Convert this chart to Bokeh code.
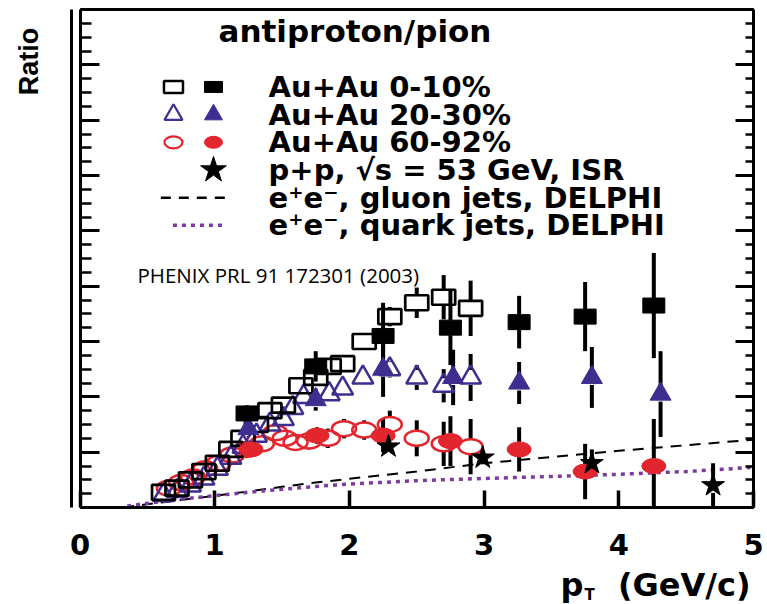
import numpy as np
from bokeh.plotting import figure
from bokeh.models import Range1d, LinearAxis, SingleIntervalTicker, Label, CustomJSTickFormatter
from bokeh.core.properties import value
from bokeh.embed import file_html
from bokeh.resources import INLINE

# ---------------- data: antiproton/pion ratio vs pT (GeV/c) ----------------
# Au+Au 0-10%  (low-pT, open squares)
sq_open_x = [0.62, 0.72, 0.82, 0.92, 1.02, 1.12, 1.21, 1.31, 1.41, 1.51, 1.64, 1.75, 1.85, 1.95, 2.11, 2.30, 2.50, 2.70, 2.90]
sq_open_y = [0.055, 0.07, 0.10, 0.13, 0.16, 0.21, 0.25, 0.30, 0.35, 0.37, 0.44, 0.47, 0.51, 0.52, 0.60, 0.69, 0.74, 0.76, 0.72]
sq_open_err = [0.005, 0.005, 0.005, 0.005, 0.005, 0.01, 0.01, 0.01, 0.01, 0.01, 0.015, 0.015, 0.02, 0.02, 0.025, 0.035, 0.055, 0.08, 0.10]
# Au+Au 0-10%  (high-pT, filled squares)
sq_fill_x = [1.24, 1.75, 2.25, 2.75, 3.26, 3.75, 4.26]
sq_fill_y = [0.34, 0.51, 0.62, 0.65, 0.67, 0.69, 0.73]
sq_fill_err = [0.03, 0.055, 0.12, 0.135, 0.095, 0.125, 0.19]

# Au+Au 20-30%
tri_open_x = [0.62, 0.72, 0.82, 0.92, 1.02, 1.12, 1.21, 1.31, 1.41, 1.51, 1.58, 1.66, 1.85, 1.95, 2.10, 2.30, 2.50, 2.70, 2.90]
tri_open_y = [0.045, 0.06, 0.08, 0.105, 0.14, 0.18, 0.22, 0.26, 0.30, 0.32, 0.36, 0.40, 0.41, 0.43, 0.47, 0.50, 0.47, 0.44, 0.47]
tri_open_err = [0.005, 0.005, 0.005, 0.005, 0.005, 0.01, 0.01, 0.01, 0.01, 0.01, 0.015, 0.015, 0.02, 0.02, 0.025, 0.03, 0.045, 0.06, 0.085]
tri_fill_x = [1.25, 1.75, 2.25, 2.77, 3.26, 3.80, 4.31]
tri_fill_y = [0.285, 0.39, 0.50, 0.47, 0.45, 0.47, 0.41]
tri_fill_err = [0.03, 0.04, 0.10, 0.10, 0.076, 0.11, 0.155]

# Au+Au 60-92%
circ_open_x = [0.66, 0.75, 0.84, 0.93, 1.03, 1.13, 1.24, 1.35, 1.45, 1.52, 1.60, 1.70, 1.84, 1.96, 2.11, 2.30, 2.50, 2.70, 2.90]
circ_open_y = [0.07, 0.09, 0.11, 0.14, 0.16, 0.19, 0.21, 0.23, 0.27, 0.25, 0.235, 0.24, 0.25, 0.285, 0.28, 0.30, 0.25, 0.23, 0.22]
circ_open_err = [0.005, 0.005, 0.005, 0.005, 0.005, 0.01, 0.01, 0.01, 0.015, 0.015, 0.03, 0.03, 0.035, 0.035, 0.035, 0.05, 0.065, 0.08, 0.10]
circ_fill_x = [1.27, 1.76, 2.25, 2.75, 3.26, 3.75, 4.26]
circ_fill_y = [0.21, 0.26, 0.26, 0.24, 0.21, 0.13, 0.15]
circ_fill_err = [0.02, 0.03, 0.06, 0.09, 0.08, 0.10, 0.17]

# p+p, sqrt(s) = 53 GeV, ISR
pp_x = [2.29, 2.99, 3.80, 4.70]
pp_y = [0.22, 0.18, 0.16, 0.08]
pp_err = [0.02, 0.02, 0.05, 0.08]

# e+e- DELPHI curves
gluon_x = [0.32, 0.5, 0.75, 1.0, 1.25, 1.5, 1.75, 2.0, 2.5, 3.0, 3.5, 4.0, 4.5, 5.0]
gluon_y = [0.0, 0.012, 0.027, 0.042, 0.058, 0.075, 0.09, 0.104, 0.13, 0.16, 0.182, 0.205, 0.225, 0.245]
quark_x = [0.35, 0.5, 0.75, 1.0, 1.25, 1.5, 1.75, 2.0, 2.5, 3.0, 3.5, 4.0, 4.5, 5.0]
quark_y = [0.005, 0.015, 0.03, 0.043, 0.055, 0.066, 0.076, 0.085, 0.097, 0.105, 0.112, 0.12, 0.13, 0.145]

legend_labels = ["Au+Au 0-10%", "Au+Au 20-30%", "Au+Au 60-92%",
                 "p+p, \u221as = 53 GeV, ISR",
                 "e\u207ae\u207b, gluon jets, DELPHI",
                 "e\u207ae\u207b, quark jets, DELPHI"]

# ---------------- layout ----------------
# The frame fills the whole canvas; the visible box is built from
# fixed-location axes so that texts outside the box are not clipped.
W, H = 767, 604
X0_PX, X5_PX = 79.5, 753.0          # pixel columns of pT = 0 and pT = 5
Y0_PX, YTOP_PX = 507.0, 9.0         # pixel rows of ratio = 0 and ratio = 1.8
X_LO, X_HI = 0.0, 5.0
Y_LO, Y_HI = 0.0, 1.8
sx = (X5_PX - X0_PX) / (X_HI - X_LO)
sy = (Y0_PX - YTOP_PX) / (Y_HI - Y_LO)
x_range = Range1d(X_LO - X0_PX / sx, X_HI + (W - X5_PX) / sx)
y_range = Range1d(Y_LO - (H - Y0_PX) / sy, Y_HI + YTOP_PX / sy)

BLACK = "black"
PURPLE = "#3f2d8f"
RED = "#e3262d"
VIOLET = "#7b3c9e"

p = figure(width=W, height=H, x_range=x_range, y_range=y_range,
           x_axis_location=None, y_axis_location=None,
           output_backend="svg", toolbar_location=None,
           min_border=0)
p.background_fill_color = "white"
p.border_fill_color = "white"
p.outline_line_color = None
p.grid.visible = False

blank = CustomJSTickFormatter(code="return ''")


def y_axis(loc, major_in, minor_in):
    ax = LinearAxis(ticker=SingleIntervalTicker(interval=0.2, num_minor_ticks=4),
                    fixed_location=loc, bounds=(Y_LO, Y_HI), formatter=blank)
    ax.major_tick_in = major_in
    ax.major_tick_out = 0
    ax.minor_tick_in = minor_in
    ax.minor_tick_out = 0
    ax.major_tick_line_width = 3
    ax.minor_tick_line_width = 2.5
    ax.axis_line_width = 3
    ax.major_label_standoff = 0
    return ax


p.add_layout(y_axis(X_LO, 19, 11), "left")
p.add_layout(y_axis(X_HI, 18, 8), "right")

# second, outer rule to the left of the box
outer = y_axis(X_LO - 8.5 / sx, 0, 0)
outer.major_tick_line_color = None
outer.minor_tick_line_color = None
p.add_layout(outer, "left")

# top edge of the box
top = LinearAxis(fixed_location=Y_HI, bounds=(X_LO, X_HI), formatter=blank,
                 ticker=SingleIntervalTicker(interval=1, num_minor_ticks=0))
top.major_tick_line_color = None
top.minor_tick_line_color = None
top.axis_line_width = 3
p.add_layout(top, "above")

xa = LinearAxis(ticker=SingleIntervalTicker(interval=1, num_minor_ticks=0),
                fixed_location=Y_LO, bounds=(X_LO, X_HI))
xa.major_tick_in = 17
xa.major_tick_out = 0
xa.minor_tick_in = 0
xa.minor_tick_out = 0
xa.axis_line_width = 3
xa.major_tick_line_width = 3.5
xa.major_label_text_font = "DejaVu Sans"
xa.major_label_text_font_style = "bold"
xa.major_label_text_font_size = "29px"
xa.major_label_text_color = BLACK
xa.major_label_standoff = 26
p.add_layout(xa, "below")

# ---------------- reference curves ----------------
p.line(gluon_x, gluon_y, line_color=BLACK, line_width=2, line_dash="11 8")
p.line(quark_x, quark_y, line_color=VIOLET, line_width=3.5, line_dash="4 5")

# ---------------- error bars (kept outside the marker body) ----------------
GAP = 7.5 / sy


def error_bars(xs, ys, errs):
    xs, ys, errs = map(np.asarray, (xs, ys, errs))
    m = errs > GAP
    x, y, e = xs[m], ys[m], errs[m]
    lo = np.maximum(y - e, Y_LO)
    p.segment(np.r_[x, x], np.r_[y + GAP, lo], np.r_[x, x], np.r_[y + e, y - GAP],
              line_color=BLACK, line_width=4)


for xs, ys, es in [(sq_open_x, sq_open_y, sq_open_err), (sq_fill_x, sq_fill_y, sq_fill_err),
                   (tri_open_x, tri_open_y, tri_open_err), (tri_fill_x, tri_fill_y, tri_fill_err),
                   (circ_open_x, circ_open_y, circ_open_err), (circ_fill_x, circ_fill_y, circ_fill_err),
                   (pp_x, pp_y, pp_err)]:
    error_bars(xs, ys, es)

# ---------------- markers ----------------
scr = dict(width_units="screen", height_units="screen")
p.ellipse(circ_open_x, circ_open_y, width=24, height=15, fill_color=None,
          line_color=RED, line_width=2.5, **scr)
p.scatter(tri_open_x, tri_open_y, marker="triangle", size=21, fill_color=None,
          line_color=PURPLE, line_width=2.5)
p.rect(sq_open_x, sq_open_y, width=23, height=15, fill_color=None,
       line_color=BLACK, line_width=2.7, **scr)

p.ellipse(circ_fill_x, circ_fill_y, width=24, height=15, fill_color=RED,
          line_color=RED, line_width=1, **scr)
p.scatter(tri_fill_x, tri_fill_y, marker="triangle", size=21, fill_color=PURPLE,
          line_color=PURPLE, line_width=1)
p.rect(sq_fill_x, sq_fill_y, width=22, height=15, fill_color=BLACK,
       line_color=BLACK, line_width=1, **scr)
p.scatter(pp_x, pp_y, marker="star", size=24, fill_color=BLACK, line_color=BLACK)

# ---------------- legend block ----------------
row_y = 1.52 - 0.1 * np.arange(6)
col_open, col_fill, col_text = 0.694, 0.991, 1.40

p.rect([col_open], [row_y[0]], width=19, height=12, fill_color=None,
       line_color=BLACK, line_width=2.5, **scr)
p.scatter([col_open], [row_y[1]], marker="triangle", size=18, fill_color=None,
          line_color=PURPLE, line_width=2.2)
p.ellipse([col_open], [row_y[2]], width=18, height=12, fill_color=None,
          line_color=RED, line_width=2.2, **scr)
p.rect([col_fill], [row_y[0]], width=18, height=11, fill_color=BLACK,
       line_color=BLACK, **scr)
p.scatter([col_fill], [row_y[1]], marker="triangle", size=18, fill_color=PURPLE,
          line_color=PURPLE)
p.ellipse([col_fill], [row_y[2]], width=18, height=12, fill_color=RED,
          line_color=RED, **scr)
p.scatter([col_fill], [row_y[3]], marker="star", size=27, fill_color=BLACK, line_color=BLACK)
p.line([0.60, 1.08], [row_y[4], row_y[4]], line_color=BLACK, line_width=2.5, line_dash="10 8")
p.line([0.69, 1.07], [row_y[5], row_y[5]], line_color=VIOLET, line_width=3.5, line_dash="4 5")

p.text(x=[col_text] * 6, y=list(row_y), text=legend_labels,
       text_font=value("DejaVu Sans"), text_font_style="bold", text_font_size="29px",
       text_color=BLACK, text_baseline="middle", text_align="left")

# ---------------- titles and notes ----------------
bold = dict(text_font="DejaVu Sans", text_font_style="bold", text_color=BLACK,
            text_baseline="middle")
p.add_layout(Label(x=1.028, y=1.724, text="antiproton/pion", text_font_size="31px", **bold))
p.add_layout(Label(x=0.427, y=0.842, text="PHENIX PRL 91 172301 (2003)",
                   text_font="Open Sans", text_font_size="20.5px", text_color=BLACK,
                   text_baseline="middle"))
p.add_layout(Label(x=-0.375, y=1.612, text="Ratio", angle=np.pi / 2, text_font_size="27px",
                   text_align="center", text_baseline="middle",
                   text_font="Liberation Sans", text_font_style="bold", text_color=BLACK))
p.add_layout(Label(x=3.567, y=-0.28, text="p", text_font_size="32px", **bold))
p.add_layout(Label(x=3.745, y=-0.315, text="T", text_font_size="15px", **bold))
p.add_layout(Label(x=4.978, y=-0.28, text="(GeV/c)", text_font_size="32px",
                   text_align="right", **bold))

open("out.html", "w").write(file_html(p, INLINE))
